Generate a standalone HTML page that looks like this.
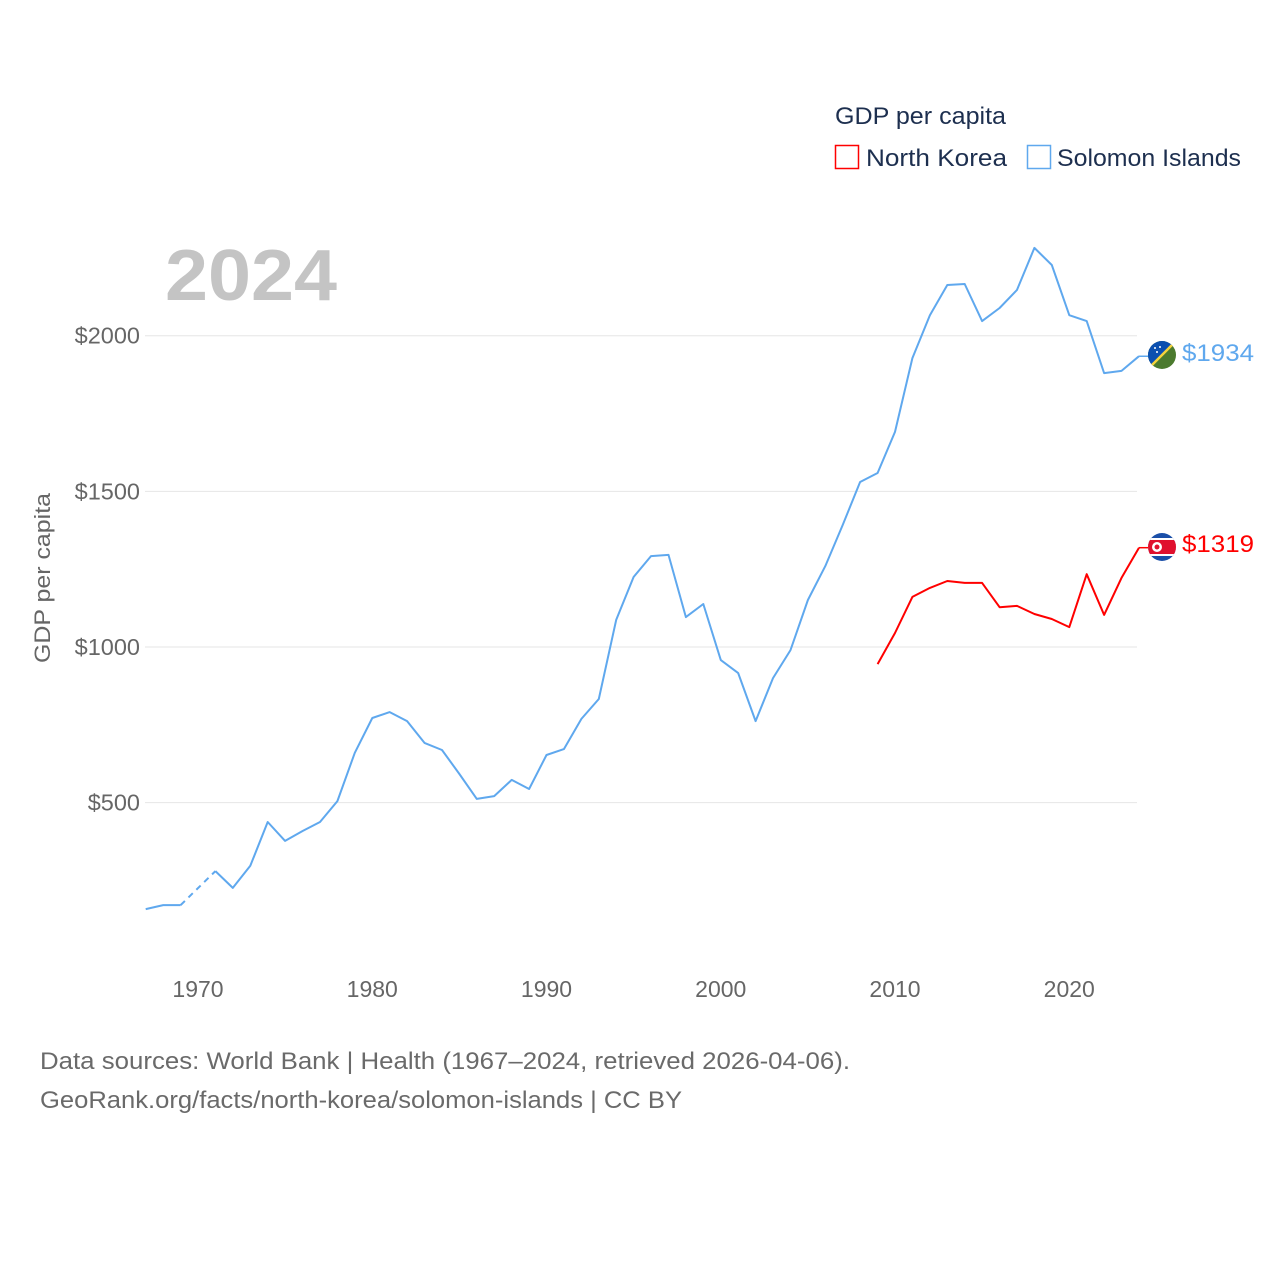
<!DOCTYPE html>
<html><head><meta charset="utf-8">
<style>
html,body{margin:0;padding:0;background:#fff;width:1280px;height:1280px;overflow:hidden;font-family:"Liberation Sans",sans-serif;}
svg text{font-family:"Liberation Sans",sans-serif;}
</style></head>
<body>
<svg id="chart" width="1280" height="1280">
  <text x="835" y="124" font-size="24" fill="#1d2f4f" textLength="171" lengthAdjust="spacingAndGlyphs">GDP per capita</text>
  <g>
    <rect x="835.5" y="145.5" width="23" height="23" fill="none" stroke="#ff0000" stroke-width="1.5"/>
    <text x="866" y="166" font-size="24" fill="#1d2f4f" textLength="141" lengthAdjust="spacingAndGlyphs">North Korea</text>
  </g>
  <g>
    <rect x="1027.5" y="145.5" width="23" height="23" fill="none" stroke="#5fa8ee" stroke-width="1.5"/>
    <text x="1057" y="166" font-size="24" fill="#1d2f4f" textLength="184" lengthAdjust="spacingAndGlyphs">Solomon Islands</text>
  </g>
  <text x="165" y="300" font-size="72" font-weight="bold" fill="#c4c4c4" textLength="172" lengthAdjust="spacingAndGlyphs">2024</text>
  <g id="grid"></g>
  <g id="yticks"></g>
  <g id="xticks"></g>
  <text transform="translate(50,578) rotate(-90)" text-anchor="middle" font-size="22" fill="#666" textLength="170" lengthAdjust="spacingAndGlyphs">GDP per capita</text>
  <g id="series"></g>
  <g>
    <clipPath id="cs"><circle cx="1162" cy="355" r="14"/></clipPath>
    <g clip-path="url(#cs)">
      <rect x="1148" y="341" width="28" height="28" fill="#4b7a2e"/>
      <polygon points="1148,341 1176,341 1148,369" fill="#0b4fb0"/>
      <line x1="1176" y1="341" x2="1148" y2="369" stroke="#f5d33c" stroke-width="2.5"/>
      <circle cx="1155" cy="348" r="1" fill="#fff"/><circle cx="1160" cy="347" r="1" fill="#fff"/><circle cx="1157" cy="352" r="1" fill="#fff"/>
    </g>
  </g>
  <g>
    <clipPath id="ck"><circle cx="1162" cy="547" r="14"/></clipPath>
    <g clip-path="url(#ck)">
      <rect x="1148" y="533" width="28" height="28" fill="#1a4fa8"/>
      <rect x="1148" y="538" width="28" height="18" fill="#fff"/>
      <rect x="1148" y="540" width="28" height="14" fill="#e0102e"/>
      <circle cx="1157" cy="547" r="5" fill="#fff"/>
      <circle cx="1157" cy="547" r="2.5" fill="#e0102e"/>
    </g>
  </g>
  <text x="1182" y="361" font-size="24" fill="#5fa8ee" textLength="72" lengthAdjust="spacingAndGlyphs">$1934</text>
  <text x="1182" y="552" font-size="24" fill="#ff0000" textLength="72" lengthAdjust="spacingAndGlyphs">$1319</text>
  <text x="40" y="1069" font-size="24" fill="#6a6a6a" textLength="810" lengthAdjust="spacingAndGlyphs">Data sources: World Bank | Health (1967–2024, retrieved 2026-04-06).</text>
  <text x="40" y="1108" font-size="24" fill="#6a6a6a" textLength="642" lengthAdjust="spacingAndGlyphs">GeoRank.org/facts/north-korea/solomon-islands | CC BY</text>
</svg>
<script>
const yTicks = [500, 1000, 1500, 2000];
const xTicks = [1970, 1980, 1990, 2000, 2010, 2020];
const solomonYears = [1967,1968,1969,1971,1972,1973,1974,1975,1976,1977,1978,1979,1980,1981,1982,1983,1984,1985,1986,1987,1988,1989,1990,1991,1992,1993,1994,1995,1996,1997,1998,1999,2000,2001,2002,2003,2004,2005,2006,2007,2008,2009,2010,2011,2012,2013,2014,2015,2016,2017,2018,2019,2020,2021,2022,2023,2024];
const solomonValues = [158,171,171,280,226,297,438,377,409,438,505,660,772,791,762,692,669,592,512,521,573,544,653,672,769,833,1087,1225,1292,1296,1096,1138,958,916,762,900,990,1151,1260,1392,1530,1559,1691,1928,2066,2163,2166,2047,2089,2147,2282,2227,2066,2047,1880,1887,1934];
const nkYears = [2009,2010,2011,2012,2013,2014,2015,2016,2017,2018,2019,2020,2021,2022,2023,2024];
const nkValues = [945,1045,1161,1190,1212,1206,1206,1128,1132,1106,1090,1064,1234,1103,1222,1319];

const NS='http://www.w3.org/2000/svg';
const xs = yr => 198 + (yr-1970)*17.425;
const ys = v => 647 - (v-1000)*0.3113;
function mk(tag, attrs, parent){const e=document.createElementNS(NS,tag);for(const k in attrs)e.setAttribute(k,attrs[k]);parent.appendChild(e);return e;}
const grid=document.getElementById('grid'), yt=document.getElementById('yticks'), xt=document.getElementById('xticks'), ser=document.getElementById('series');
yTicks.forEach(v=>{
  const l=mk('line',{x1:145,x2:1137,y1:ys(v),y2:ys(v),stroke:'#e6e6e6','stroke-width':1},grid);
  
  
  const t=mk('text',{x:140,y:ys(v)+8,'text-anchor':'end','font-size':23.5,fill:'#666'},yt);
  t.textContent='$'+v;
  
  
});
xTicks.forEach(yr=>{
  const t=mk('text',{x:xs(yr),y:997,'text-anchor':'middle','font-size':23,fill:'#666'},xt);
  t.textContent=yr;
  
  
});
function drawSeries(years, vals, color, name){
  let segs=[[0]];
  for(let i=1;i<years.length;i++){
    if(years[i]-years[i-1]>1){segs.push([i-1,i,'gap']);segs.push([i]);}
    else segs[segs.length-1].push(i);
  }
  segs.forEach(s=>{
    const gap=s[2]==='gap';
    const idx=gap?[s[0],s[1]]:s;
    const d=idx.map((i,k)=>(k?'L':'M')+xs(years[i]).toFixed(1)+','+ys(vals[i]).toFixed(1)).join(' ');
    const p=mk('path',{d:d,fill:'none',stroke:color,'stroke-width':2,'stroke-linejoin':'round'},ser);
    if(gap)p.setAttribute('stroke-dasharray','6,5');
    
    
  });
  const last=vals.length-1;
  const c=mk('path',{d:'M'+xs(years[last])+','+ys(vals[last])+' L1148,'+ys(vals[last]),fill:'none',stroke:color,'stroke-width':1.5},ser);
  
  
}
drawSeries(solomonYears, solomonValues, '#5fa8ee', 'solomon-islands');
drawSeries(nkYears, nkValues, '#ff0000', 'north-korea');
</script>
</body></html>
